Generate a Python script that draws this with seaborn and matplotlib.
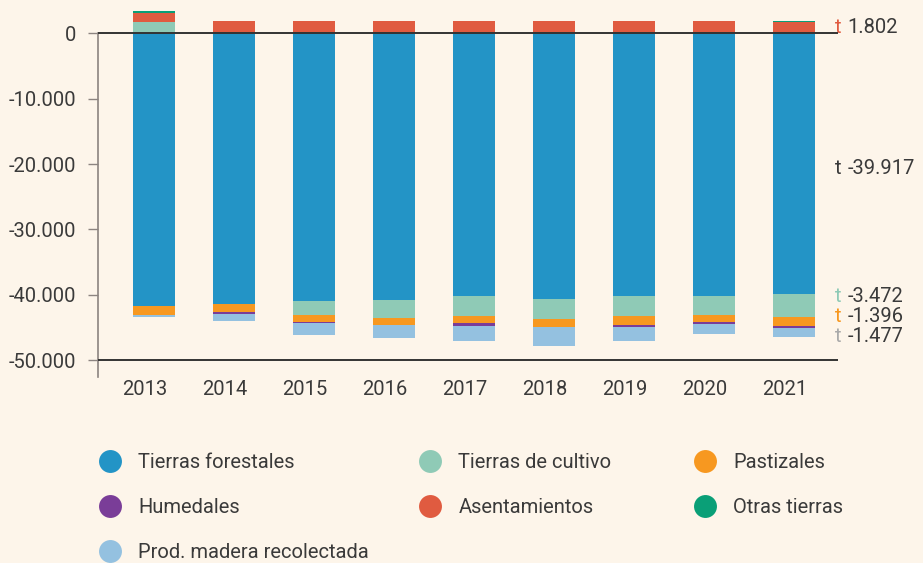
import pandas as pd
import matplotlib.pyplot as plt
import matplotlib.transforms as mtransforms
from matplotlib.lines import Line2D
from matplotlib.ticker import FuncFormatter
import seaborn as sns

# values (t), negatives = removals
years = ['2013', '2014', '2015', '2016', '2017', '2018', '2019', '2020', '2021']
forestales = [-41710, -41370, -40960, -40800, -40190, -40650, -40190, -40190, -39917]
cultivo = [1720, 0, -2140, -2700, -3010, -3060, -3010, -2910, -3472]
pastizales = [-1326, -1270, -1020, -1120, -1120, -1220, -1430, -1070, -1396]
humedales = [-30, -260, -150, -30, -460, -30, -310, -310, -250]
asentamientos = [1370, 1880, 1850, 1830, 1820, 1820, 1810, 1810, 1802]
otras = [300, 60, 60, 60, 60, 60, 60, 60, 60]
madera = [-350, -1120, -1880, -1990, -2300, -2910, -2140, -1530, -1477]

names = ['Tierras forestales', 'Tierras de cultivo', 'Pastizales', 'Humedales',
         'Asentamientos', 'Otras tierras', 'Prod. madera recolectada']
colors = {'Tierras forestales': '#2394c6', 'Tierras de cultivo': '#8fcab6',
          'Pastizales': '#f79820', 'Humedales': '#7a3d98',
          'Asentamientos': '#e05b40', 'Otras tierras': '#0a9f77',
          'Prod. madera recolectada': '#94c1e0'}
series = dict(zip(names, [forestales, cultivo, pastizales, humedales,
                          asentamientos, otras, madera]))

neg_order = ['Tierras forestales', 'Tierras de cultivo', 'Pastizales',
             'Humedales', 'Prod. madera recolectada']
pos_order = ['Tierras de cultivo', 'Asentamientos', 'Otras tierras']

BG = '#fdf5ea'
TXT = '#3a3a3a'
FS = 14.5

sns.set_theme(style='white')
plt.rcParams['font.family'] = ['Roboto', 'DejaVu Sans']

fig = plt.figure(figsize=(9.23, 5.63), dpi=100, facecolor=BG)
ax = fig.add_axes([98 / 923, 1 - 377 / 563, 740 / 923, 377 / 563])
ax.set_facecolor(BG)


def stacked(order, sign):
    # cumulative heights, drawn deepest first so later bars overlay
    rows = []
    cum = [0] * len(years)
    for name in order:
        vals = [min(v, 0) if sign < 0 else max(v, 0) for v in series[name]]
        cum = [c + v for c, v in zip(cum, vals)]
        for y, c in zip(years, cum):
            rows.append({'year': y, 'serie': name, 'cum': c})
    return pd.DataFrame(rows)


for order, sign in [(neg_order, -1), (pos_order, 1)]:
    df = stacked(order, sign)
    for name in reversed(order):
        sub = df[df['serie'] == name]
        sns.barplot(data=sub, x='year', y='cum', order=years, color=colors[name],
                    saturation=1, width=0.525, linewidth=0, errorbar=None, ax=ax)

ax.axhline(0, color='#333333', lw=1.4, zorder=5)
ax.axhline(-50000, color='#333333', lw=1.4, zorder=5)

ax.set_xlim(-0.7, 8.55)
ax.set_ylim(-52590, 5095)
ax.set_yticks(range(-50000, 1, 10000))
ax.yaxis.set_major_formatter(FuncFormatter(lambda v, p: f'{int(v):,}'.replace(',', '.')))
ax.set_xlabel('')
ax.set_ylabel('')
for s in ['top', 'right', 'bottom']:
    ax.spines[s].set_visible(False)
ax.spines['left'].set_color('#8c8480')
ax.spines['left'].set_linewidth(1.2)
ax.spines['left'].set_bounds(-52590, 0)
ax.tick_params(axis='y', left=True, length=7, width=1, color='#8c8480',
               pad=9, labelsize=FS, labelcolor=TXT)
ax.tick_params(axis='x', bottom=False, length=0, pad=2, labelsize=FS, labelcolor=TXT)
shift = mtransforms.ScaledTranslation(-9 / 100, 0, fig.dpi_scale_trans)
for lab in ax.get_xticklabels():
    lab.set_transform(lab.get_transform() + shift)

# labels for the last year at the right edge
last = len(years) - 1
f_last = forestales[last]
c_last = cultivo[last]
p_last = pastizales[last]
m_last = madera[last]
a_last = asentamientos[last]
p_mid = f_last + c_last + p_last / 2 + 700
spread = 3050
labels = [
    (a_last / 2, a_last, colors['Asentamientos']),
    (f_last / 2 - 700, f_last, TXT),
    (p_mid + spread, c_last, colors['Tierras de cultivo']),
    (p_mid, p_last, colors['Pastizales']),
    (p_mid - spread, m_last, '#aaaaaa'),
]
num_tr = mtransforms.offset_copy(ax.transData, fig=fig, x=13, y=0, units='dots')
for ypos, val, col in labels:
    ax.text(8.51, ypos, 't', color=col, fontsize=FS, va='center', ha='left',
            clip_on=False)
    ax.text(8.51, ypos, f'{val:,}'.replace(',', '.'), color=TXT, fontsize=FS,
            va='center', ha='left', transform=num_tr, clip_on=False)

# legend in three columns
columns = [(['Tierras forestales', 'Humedales', 'Prod. madera recolectada'], 98),
           (['Tierras de cultivo', 'Asentamientos'], 418),
           (['Pastizales', 'Otras tierras'], 693)]
for labs, xpix in columns:
    handles = [Line2D([], [], marker='o', ls='none', markersize=16.5,
                      markerfacecolor=colors[n], markeredgewidth=0) for n in labs]
    fig.legend(handles, labs, loc='upper left',
               bbox_to_anchor=(xpix / 923, 1 - 453 / 563), frameon=False,
               fontsize=FS, labelcolor=TXT, handlelength=1.2, handletextpad=0.8,
               labelspacing=1.3, borderpad=0, borderaxespad=0)

fig.savefig('out.png', dpi=100, facecolor=BG)
